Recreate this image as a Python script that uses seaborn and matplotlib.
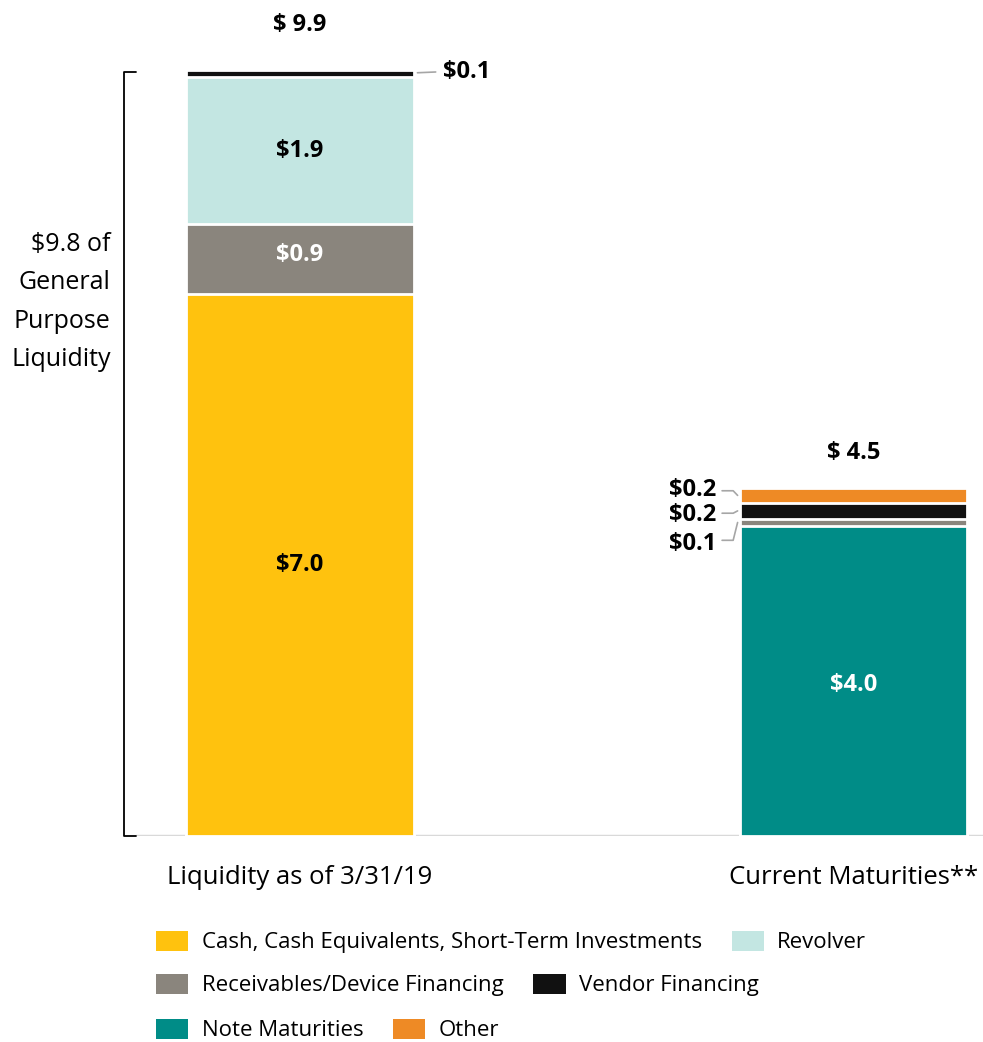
import pandas as pd
import seaborn as sns
import matplotlib.pyplot as plt
from matplotlib.patches import Patch
import numpy as np

sns.set_style("white")
plt.rcParams['font.family'] = ['Open Sans', 'DejaVu Sans']
plt.rcParams['text.color'] = 'black'
plt.rcParams['xtick.color'] = 'black'

# data ($ billions)
categories = ["Liquidity as of 3/31/19", "Current Maturities**"]
left_labels = ["Cash, Cash Equivalents, Short-Term Investments",
               "Receivables/Device Financing", "Revolver", "Vendor Financing"]
left_values = [7.0, 0.9, 1.9, 0.1]
right_labels = ["Note Maturities", "Receivables/Device Financing",
                "Vendor Financing", "Other"]
right_values = [4.0, 0.1, 0.2, 0.2]
totals = [9.9, 4.5]
general_purpose = 9.8

colors = {
    "Cash, Cash Equivalents, Short-Term Investments": "#FFC20E",
    "Revolver": "#C3E6E2",
    "Receivables/Device Financing": "#8A857D",
    "Vendor Financing": "#111111",
    "Note Maturities": "#008C87",
    "Other": "#EE8A25",
}

cum_left = np.cumsum(left_values)
cum_right = np.cumsum(right_values)

fig = plt.figure(figsize=(9.83, 10.42), dpi=100)
ax = fig.add_axes([136 / 983, 1 - 836 / 1042, 847 / 983, 836 / 1042])

BAR_W = 0.41
# draw cumulative heights from the top layer down, so lower layers cover
for i in reversed(range(4)):
    df = pd.DataFrame({"cat": categories,
                       "val": [cum_left[i], cum_right[i]],
                       "seg": [left_labels[i], right_labels[i]]})
    sns.barplot(data=df, x="cat", y="val", hue="seg", palette=colors,
                order=categories, dodge=False, width=BAR_W, errorbar=None,
                saturation=1, edgecolor="white", linewidth=2, legend=False,
                ax=ax)

ax.set_xlim(-0.296, 1.233)
ax.set_ylim(0, 10.8)
sns.despine(ax=ax, left=True, top=True, right=True, bottom=True)
ax.axhline(0, color="#D9D9D9", lw=2.5, zorder=0)
ax.set_yticks([])
ax.set_xlabel("")
ax.set_ylabel("")
ax.tick_params(axis="x", length=0, pad=21, labelsize=18.5, labelcolor="black")

bold = dict(fontsize=17, fontweight="bold", ha="center", va="center")

# in-bar labels
ax.text(0, left_values[0] / 2, f"${left_values[0]:.1f}", color="black", **bold)
ax.text(0, cum_left[0] + left_values[1] / 2 + 0.05, f"${left_values[1]:.1f}", color="white", **bold)
ax.text(0, cum_left[1] + left_values[2] / 2, f"${left_values[2]:.1f}", color="black", **bold)
ax.text(1, right_values[0] / 2 - 0.05, f"${right_values[0]:.1f}", color="white", **bold)

# totals
ax.text(0, totals[0] + 0.58, f"$ {totals[0]:.1f}", color="black", **bold)
ax.text(1, totals[1] + 0.45, f"$ {totals[1]:.1f}", color="black", **bold)

# small segment callouts
lc = "#A6A6A6"
small = dict(fontsize=17, fontweight="bold", va="center")
ax.plot([0.212, 0.245], [9.86, 9.87], color=lc, lw=1.2)
ax.text(0.258, 9.87, f"${left_values[3]:.1f}", ha="left", **small)

ax.plot([0.762, 0.782, 0.790], [4.46, 4.46, 4.40], color=lc, lw=1.2)
ax.text(0.751, 4.47, f"${right_values[3]:.1f}", ha="right", **small)
ax.plot([0.762, 0.782, 0.790], [4.17, 4.17, 4.2], color=lc, lw=1.2)
ax.text(0.751, 4.15, f"${right_values[2]:.1f}", ha="right", **small)
ax.plot([0.762, 0.782, 0.790], [3.82, 3.82, 4.05], color=lc, lw=1.2)
ax.text(0.751, 3.77, f"${right_values[1]:.1f}", ha="right", **small)

# bracket for general purpose liquidity
tr = ax.get_yaxis_transform()
ax.plot([0.0, -0.0142, -0.0142, 0.0], [9.87, 9.87, 0, 0], color="black",
        lw=1.3, transform=tr, clip_on=False)
ax.text(-0.03, 6.9, f"${general_purpose:.1f} of\nGeneral\nPurpose\nLiquidity",
        transform=tr, ha="right", va="center", fontsize=18,
        linespacing=1.7)

# legend rows
rows = [
    ["Cash, Cash Equivalents, Short-Term Investments", "Revolver"],
    ["Receivables/Device Financing", "Vendor Financing"],
    ["Note Maturities", "Other"],
]
row_y = [942, 985, 1030]
for labels, y in zip(rows, row_y):
    handles = [Patch(facecolor=colors[l], edgecolor="none") for l in labels]
    fig.legend(handles, labels, loc="center left",
               bbox_to_anchor=(156 / 983, 1 - y / 1042), ncol=2,
               frameon=False, fontsize=16, handlelength=1.45, handleheight=1.05,
               handletextpad=0.6, columnspacing=1.35, borderpad=0,
               borderaxespad=0, labelcolor="black")

fig.savefig("out.png", dpi=100)
